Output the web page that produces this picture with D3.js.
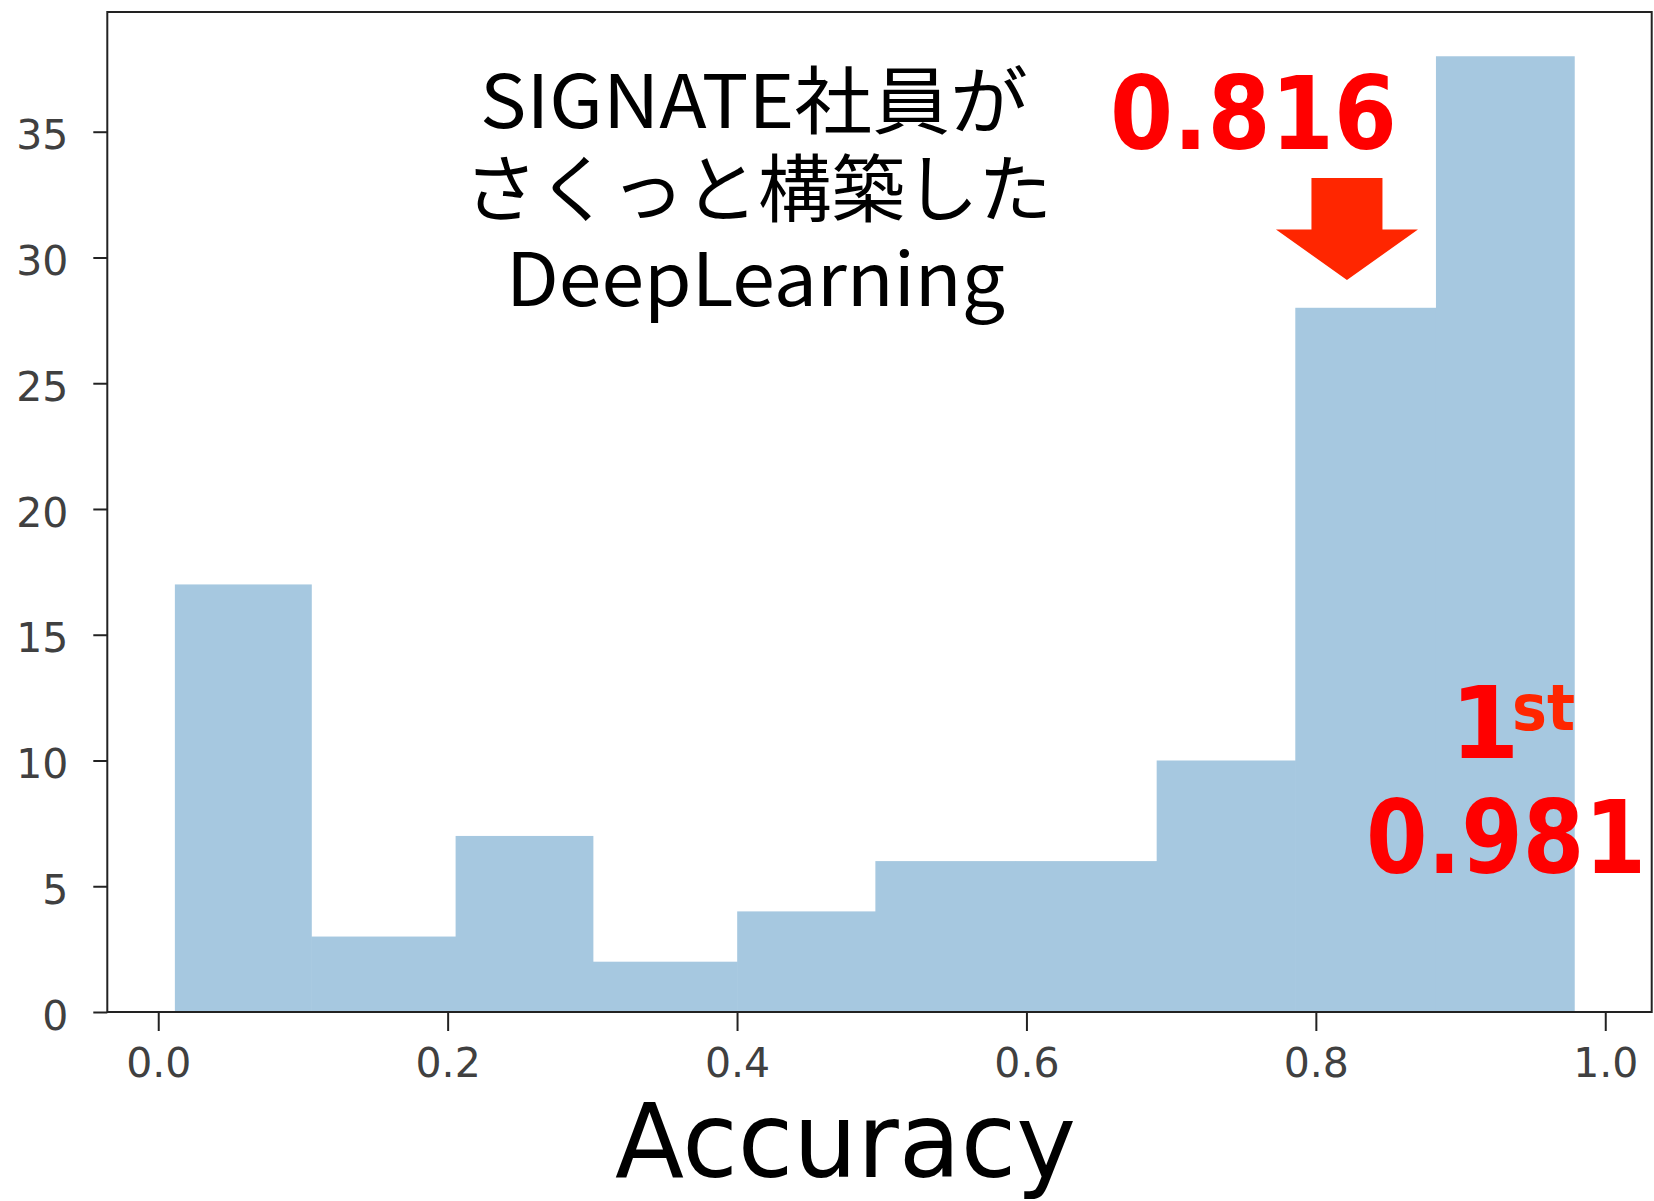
<!DOCTYPE html>
<html>
<head>
<meta charset="utf-8">
<script src="https://cdn.jsdelivr.net/npm/d3@7"></script>
<style>
  html, body { margin: 0; padding: 0; background: #ffffff; }
  svg { display: block; }
</style>
</head>
<body>
<svg id="chart" width="1654" height="1201"></svg>
<script>
// ---- data ----
const binEdges = [0.0115, 0.1057, 0.2055, 0.3003, 0.4001, 0.4956, 0.5925, 0.6900, 0.7858, 0.8830, 0.9785];
const counts   = [17, 3, 7, 2, 4, 6, 6, 10, 28, 38];
const xTicks   = [0.0, 0.2, 0.4, 0.6, 0.8, 1.0];
const yTicks   = [0, 5, 10, 15, 20, 25, 30, 35];
const xLabel   = "Accuracy";
const noteLines = ["SIGNATE社員が", "さくっと構築した", "DeepLearning"];
const ourScore  = "0.816";
const ourScoreValue = 0.8215;   // arrow points at this accuracy
const firstLabel = "1";
const firstSup   = "st";
const firstScore = "0.981";

// ---- layout ----
const svg = d3.select("#chart");
const plot = { left: 107.3, right: 1651.7, top: 12, bottom: 1012 };

const x = d3.scaleLinear().domain([-0.0352, 1.0321]).range([plot.left, plot.right]);
const y = d3.scaleLinear().domain([0, 39.76]).range([plot.bottom, plot.top]);

const bins = counts.map((c, i) => ({ x0: binEdges[i], x1: binEdges[i + 1], n: c }));

// bars
svg.append("g").selectAll("rect").data(bins).join("rect")
  .attr("x", d => x(d.x0))
  .attr("width", d => x(d.x1) - x(d.x0) + 0.6)
  .attr("y", d => y(d.n))
  .attr("height", d => y(0) - y(d.n))
  .attr("fill", "rgb(166,200,224)");

// frame
svg.append("rect")
  .attr("x", plot.left).attr("y", plot.top)
  .attr("width", plot.right - plot.left).attr("height", plot.bottom - plot.top)
  .attr("fill", "none").attr("stroke", "#222").attr("stroke-width", 2);

// axes
const xAxis = d3.axisBottom(x).tickValues(xTicks).tickFormat(d3.format(".1f"))
  .tickSize(19).tickPadding(17);
const yAxis = d3.axisLeft(y).tickValues(yTicks).tickFormat(d3.format("d"))
  .tickSize(14).tickPadding(25);

const gx = svg.append("g").attr("transform", `translate(0,${plot.bottom})`).call(xAxis);
const gy = svg.append("g").attr("transform", `translate(${plot.left},0)`).call(yAxis);
[gx, gy].forEach(g => {
  g.select(".domain").remove();
  g.selectAll(".tick line").attr("stroke", "#222").attr("stroke-width", 2);
  g.selectAll(".tick text")
    .attr("fill", "#404040")
    .style("font-family", "'DejaVu Sans', sans-serif")
    .style("font-size", "41px");
});
gy.selectAll(".tick text").attr("dy", "0.42em");

// x label
svg.append("text")
  .attr("x", 615).attr("y", 1177)
  .attr("textLength", 461).attr("lengthAdjust", "spacingAndGlyphs")
  .style("font-family", "'DejaVu Sans', sans-serif")
  .style("font-size", "104px")
  .attr("fill", "#000")
  .text(xLabel);

// black annotation
const noteGeom = [
  { x: 480, y: 128, w: 548 },
  { x: 464, y: 216, w: 588 },
  { x: 506, y: 306, w: 499 }
];
svg.append("g").selectAll("text").data(noteLines).join("text")
  .attr("x", (d, i) => noteGeom[i].x)
  .attr("y", (d, i) => noteGeom[i].y)
  .attr("textLength", (d, i) => noteGeom[i].w)
  .attr("lengthAdjust", "spacingAndGlyphs")
  .style("font-family", "'Noto Sans CJK JP', sans-serif")
  .style("font-size", "74px")
  .attr("fill", "#000")
  .text(d => d);

// red annotations
const redFont = "'DejaVu Sans', sans-serif";
svg.append("text")
  .attr("x", 1110).attr("y", 149)
  .attr("textLength", 287).attr("lengthAdjust", "spacingAndGlyphs")
  .style("font-family", redFont).style("font-weight", "bold").style("font-size", "101px")
  .attr("fill", "#ff0000")
  .text(ourScore);

// arrow
const ax = x(ourScoreValue);
const arrowPts = [
  [ax - 35.5, 178], [ax + 35.5, 178], [ax + 35.5, 229.5], [ax + 71, 229.5],
  [ax, 280], [ax - 71, 229.5], [ax - 35.5, 229.5]
];
svg.append("polygon")
  .attr("points", arrowPts.map(p => p.join(",")).join(" "))
  .attr("fill", "rgb(255,38,0)");

// 1st
svg.append("text")
  .attr("x", 1450).attr("y", 758)
  .style("font-family", redFont).style("font-weight", "bold").style("font-size", "100px")
  .attr("fill", "#ff0000")
  .text(firstLabel);
svg.append("text")
  .attr("x", 1512).attr("y", 730)
  .attr("textLength", 63).attr("lengthAdjust", "spacingAndGlyphs")
  .style("font-family", redFont).style("font-weight", "bold").style("font-size", "64px")
  .attr("fill", "rgb(255,38,0)")
  .text(firstSup);
svg.append("text")
  .attr("x", 1366).attr("y", 873)
  .attr("textLength", 280).attr("lengthAdjust", "spacingAndGlyphs")
  .style("font-family", redFont).style("font-weight", "bold").style("font-size", "101px")
  .attr("fill", "#ff0000")
  .text(firstScore);
</script>
</body>
</html>
